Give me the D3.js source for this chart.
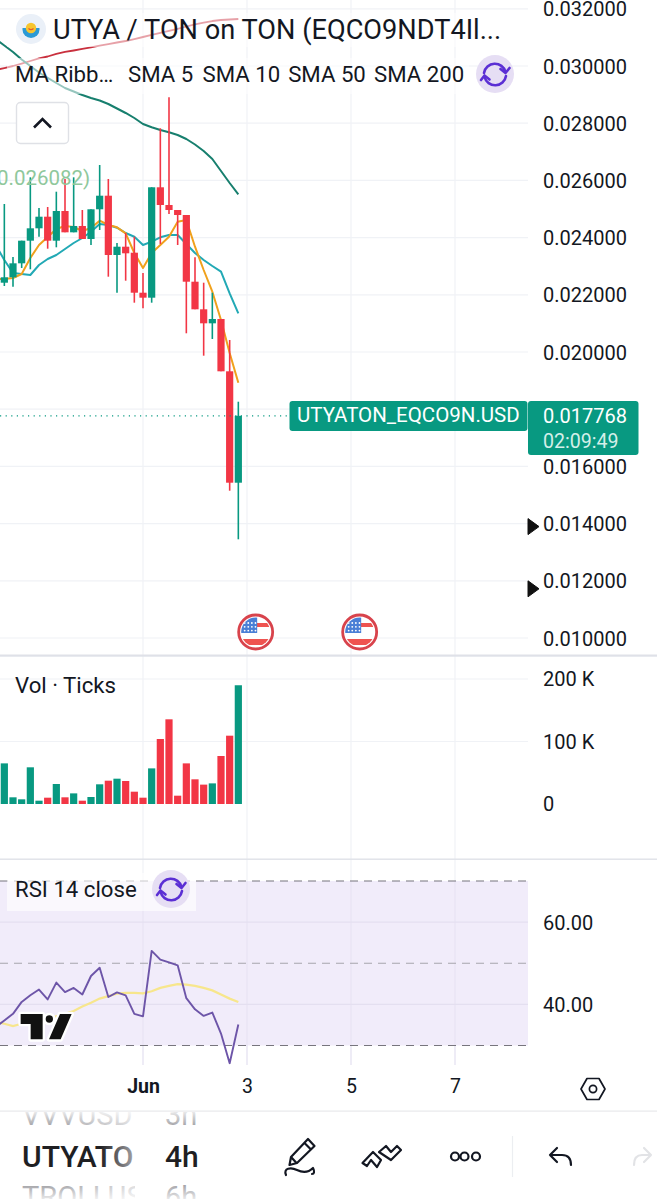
<!DOCTYPE html>
<html>
<head>
<meta charset="utf-8">
<script src="https://cdn.jsdelivr.net/npm/d3@7/dist/d3.min.js"></script>
<style>
  html, body { margin: 0; padding: 0; background: #fff; overflow: hidden; }
  svg { display: block; }
  text { font-family: Roboto, "Noto Sans", sans-serif; fill: #131722; }
</style>
</head>
<body>
<svg id="chart" width="657" height="1199"></svg>
<script>
// 4h candles for UTYATON, first bar 29 May 08:00 UTC
const firstBar = Date.UTC(2025, 4, 29, 8);
const opens = [0.022423,0.022612,0.023101,0.023892,0.024325,0.024731,0.023892,0.024930,0.024185,0.024406,0.023951,0.024990,0.025465,0.023392,0.023682,0.023472,0.022073,0.021899,0.025759,0.025140,0.024965,0.024790,0.022458,0.021493,0.021003,0.021154,0.019325,0.015430];
const highs = [0.025175,0.023322,0.023892,0.026108,0.025035,0.025070,0.025605,0.026049,0.026108,0.024965,0.024990,0.026538,0.026049,0.023811,0.024161,0.024031,0.022762,0.025759,0.027822,0.028906,0.024965,0.024790,0.023311,0.022423,0.022073,0.021154,0.020420,0.018262];
const lows = [0.022308,0.022283,0.022937,0.022892,0.024031,0.023612,0.023661,0.024185,0.024185,0.023951,0.023741,0.024266,0.022633,0.022073,0.022493,0.021724,0.021528,0.021724,0.023776,0.024825,0.023741,0.020654,0.021493,0.019871,0.020455,0.019325,0.015150,0.013451];
const closes = [0.022612,0.023101,0.023892,0.024325,0.024731,0.023892,0.024930,0.024185,0.024406,0.023951,0.024990,0.025465,0.023392,0.023682,0.023451,0.022073,0.021899,0.025759,0.025140,0.024965,0.024790,0.022458,0.021493,0.021003,0.021154,0.019325,0.015430,0.017768];

// moving averages of the close; each study carries one extra bar ahead of the first candle
const sma5 = [0.022550,0.022552,0.022587,0.022727,0.023287,0.023741,0.024021,0.024301,0.024406,0.024371,0.024231,0.024336,0.024591,0.024441,0.024360,0.024150,0.023462,0.022937,0.023462,0.023741,0.024031,0.024556,0.024615,0.023682,0.022867,0.022108,0.021119,0.019965,0.018927];
const sma10 = [0.023741,0.023217,0.022762,0.022727,0.022692,0.023042,0.023252,0.023392,0.023601,0.023811,0.023986,0.024206,0.024476,0.024441,0.024346,0.024161,0.024031,0.023741,0.023857,0.024010,0.024091,0.024091,0.023776,0.023462,0.023217,0.023007,0.022808,0.022052,0.021353];
const sma50 = [0.030944,0.030717,0.030490,0.030227,0.030000,0.029773,0.029587,0.029406,0.029231,0.029108,0.028986,0.028881,0.028794,0.028671,0.028514,0.028357,0.028182,0.027972,0.027857,0.027762,0.027682,0.027587,0.027448,0.027255,0.027028,0.026748,0.026329,0.025909,0.025514];
const sma200 = [0.029860,0.029930,0.030000,0.030087,0.030175,0.030269,0.030332,0.030420,0.030490,0.030542,0.030598,0.030654,0.030710,0.030766,0.030822,0.030874,0.030944,0.031014,0.031084,0.031154,0.031224,0.031301,0.031381,0.031458,0.031517,0.031573,0.031608,0.031626,0.031643];

// tick volume in thousands, RSI and its smoothing
const volumes = [65,10.7,7.5,58.7,5.3,10.1,32,10.7,17,5.3,11.2,31.5,37.3,40.5,36.8,19.7,10.1,57,104,135.5,13.3,65,39.5,31,33,76.8,109.3,190];
const rsi = [34.5,36.1,37.7,40.6,42.2,43.6,41.2,45.3,43.0,44.0,42.4,46.9,48.9,41.8,42.9,42.2,37.7,37.1,53.0,50.9,50.2,49.5,41.5,38.8,37.2,38.0,32.9,25.7,35.1];
const rsiMa = [35.7,35.3,34.7,35.3,35.7,36.1,36.5,37.1,37.7,38.4,39.5,40.4,41.4,42.0,42.6,42.8,42.8,42.7,43.2,44.0,44.5,44.9,44.8,44.5,44.0,43.4,42.4,41.4,40.6];

// axis ticks and labels
const priceTicks = [0.010,0.012,0.014,0.016,0.018,0.020,0.022,0.024,0.026,0.028,0.030,0.032];
const volumeTicks = [0,100,200];
const rsiTicks = [40,60];
const rsiBands = [30,50,70];
const dateTicks = [Date.UTC(2025,5,1),Date.UTC(2025,5,3),Date.UTC(2025,5,5),Date.UTC(2025,5,7)];
const lastPrice = 0.017768;
const eventDates = [Date.UTC(2025,5,3,4),Date.UTC(2025,5,5,4)];
const studyNames = [["SMA 5", 128], ["SMA 10", 202.5], ["SMA 50", 288.2], ["SMA 200", 374]];

const GREEN = "#089981", RED = "#f23645", GRID = "#f0f2f6", PURPLE = "#5b2fd4";
const HOUR = 3600e3;
const dates = closes.map((_, i) => firstBar + i * 4 * HOUR);

const svg = d3.select("#chart");
const defs = svg.append("defs");

// shared time axis; 2 days span 104 px
const x = d3.scaleUtc().domain([dateTicks[0], dateTicks[1]]).range([143, 247]);
const y = d3.scaleLinear().domain([0.010, 0.032]).range([638, 8.8]);
const yVol = d3.scaleLinear().domain([0, 200]).range([804, 679]);
const yRsi = d3.scaleLinear().domain([30, 70]).range([1045.5, 881]);
const idx = d3.range(closes.length);

// vertical grid across the three panes
svg.append("g").selectAll("line").data(dateTicks).join("line")
  .attr("x1", d => x(d)).attr("x2", d => x(d)).attr("y1", 0).attr("y2", 1065)
  .attr("stroke", GRID).attr("stroke-width", 1.2);

// RSI background band
svg.append("rect").attr("x", 0).attr("width", 528)
  .attr("y", yRsi(70)).attr("height", yRsi(30) - yRsi(70)).attr("fill", "#f1ecfa");
svg.append("g").selectAll("line").data(dateTicks).join("line")
  .attr("x1", d => x(d)).attr("x2", d => x(d)).attr("y1", yRsi(70)).attr("y2", 1065)
  .attr("stroke", "#e6e1f2").attr("stroke-width", 1);

function hGrid(ticks, scale, color) {
  svg.append("g").selectAll("line").data(ticks).join("line")
    .attr("x1", 0).attr("x2", 528).attr("y1", d => scale(d)).attr("y2", d => scale(d))
    .attr("stroke", color).attr("stroke-width", 1.2);
}
hGrid(priceTicks, y, GRID);
hGrid(volumeTicks.slice(1), yVol, GRID);
hGrid(rsiTicks, yRsi, "#e4dff0");

// pane separators
svg.append("rect").attr("x", 0).attr("y", 654.5).attr("width", 657).attr("height", 2.2).attr("fill", "#dfe1e8");
svg.append("rect").attr("x", 0).attr("y", 858.5).attr("width", 657).attr("height", 1.4).attr("fill", "#dfe1e8");
svg.append("rect").attr("x", 0).attr("y", 1110.5).attr("width", 657).attr("height", 1.2).attr("fill", "#e8e9ec");

// moving averages, offset by the extra leading bar
const lineOf = (values, scale) => d3.line().x((_, i) => x(firstBar + (i - 1) * 4 * HOUR)).y(d => scale(d))(values);
[[sma200, "#c9303e", 1.8], [sma50, "#177f6e", 2], [sma10, "#22a9b5", 2], [sma5, "#f0a11c", 2]].forEach(([values, color, w]) => {
  svg.append("path").attr("d", lineOf(values, y)).attr("fill", "none")
    .attr("stroke", color).attr("stroke-width", w).attr("stroke-linejoin", "round");
});

// candles
const isUp = i => closes[i] >= opens[i];
const candles = svg.append("g").selectAll("g").data(idx).join("g");
candles.append("line")
  .attr("x1", i => x(dates[i])).attr("x2", i => x(dates[i]))
  .attr("y1", i => y(highs[i])).attr("y2", i => y(lows[i]))
  .attr("stroke", i => isUp(i) ? GREEN : RED).attr("stroke-width", 1.6);
candles.append("rect")
  .attr("x", i => x(dates[i]) - 3.6).attr("width", 7.2)
  .attr("y", i => y(Math.max(opens[i], closes[i])))
  .attr("height", i => Math.max(1, Math.abs(y(opens[i]) - y(closes[i]))))
  .attr("fill", i => isUp(i) ? GREEN : RED);

// last price dotted line
svg.append("line").attr("x1", 0).attr("x2", 290).attr("y1", y(lastPrice)).attr("y2", y(lastPrice))
  .attr("stroke", GREEN).attr("stroke-width", 1.2).attr("stroke-dasharray", "1.2 4.4");

// legend rows sit on a translucent strip above the lines
svg.append("rect").attr("x", 7).attr("y", 13).attr("width", 498).attr("height", 34).attr("fill", "#fff").attr("fill-opacity", 0.55);
svg.append("rect").attr("x", 7).attr("y", 58).attr("width", 462).attr("height", 36).attr("fill", "#fff").attr("fill-opacity", 0.55);

// symbol badge
svg.append("circle").attr("cx", 31).attr("cy", 29).attr("r", 15).attr("fill", "#eaf0f8");
svg.append("path").attr("d", "M22.5 29.5 A8.5 8.5 0 0 0 39.5 29.5 L39.5 28 L22.5 28 Z").attr("fill", "#2a9ad6");
svg.append("circle").attr("cx", 31).attr("cy", 28).attr("r", 5.2).attr("fill", "#f7c52e");
svg.append("path").attr("d", "M28.5 28.5 Q31 31 33.5 28.5").attr("fill", "none").attr("stroke", "#e4572e").attr("stroke-width", 1.2);

svg.append("text").attr("x", 53).attr("y", 39).attr("font-size", 27.2).text("UTYA / TON on TON (EQCO9NDT4Il...");
svg.append("text").attr("x", 15).attr("y", 81.5).attr("font-size", 22.2).text("MA Ribb…");
svg.append("g").selectAll("text").data(studyNames).join("text")
  .attr("x", d => d[1]).attr("y", 81.5).attr("font-size", 22.2).text(d => d[0]);
svg.append("text").attr("x", -3).attr("y", 185).attr("font-size", 20.5).style("fill", "#8fc89c").text("0.026082)");

// refresh toggle used on the legend rows
function refreshIcon(cx, cy, r) {
  const g = svg.append("g").attr("transform", `translate(${cx},${cy})`)
    .attr("fill", "none").attr("stroke", PURPLE).attr("stroke-width", 2.6)
    .attr("stroke-linecap", "round").attr("stroke-linejoin", "round");
  g.append("circle").attr("r", r).attr("fill", "#e6def4").attr("stroke", "none");
  g.append("path").attr("d", "M-11 -1 A11 11 0 0 1 10.5 -2");
  g.append("path").attr("d", "M11 2 A11 11 0 0 1 -10.5 3");
  g.append("path").attr("d", "M5.5 -5 L10.5 -1 L14.5 -6");
  g.append("path").attr("d", "M-14 6 L-10.5 1.5 L-5.5 5.5");
}
refreshIcon(495, 74, 19);

// collapse button
svg.append("rect").attr("x", 16.5).attr("y", 102.5).attr("width", 52).attr("height", 41).attr("rx", 4)
  .attr("fill", "#fff").attr("stroke", "#dfe1e6").attr("stroke-width", 1.4);
svg.append("path").attr("d", "M34 127.5 L42.5 119 L51 127.5").attr("fill", "none").attr("stroke", "#131722").attr("stroke-width", 2.6);

// right-hand scales share one look
function styleAxis(g) {
  g.select(".domain").remove();
  g.selectAll("text").attr("font-size", 20).attr("font-family", "Roboto").style("fill", "#131722");
}

// price axis
svg.append("g").attr("transform", "translate(543,0.6)")
  .call(d3.axisRight(y).tickValues(priceTicks.filter(d => d !== 0.018)).tickSize(0).tickPadding(0).tickFormat(d3.format(".6f")))
  .call(styleAxis);

// last price tags
svg.append("rect").attr("x", 289.5).attr("y", 401).attr("width", 238).attr("height", 30).attr("rx", 3).attr("fill", GREEN);
svg.append("text").attr("x", 297).attr("y", 422).attr("font-size", 20.5).style("fill", "#fff").text("UTYATON_EQCO9N.USD");
svg.append("rect").attr("x", 528).attr("y", 401).attr("width", 110.5).attr("height", 54).attr("rx", 3).attr("fill", GREEN);
svg.append("text").attr("x", 543).attr("y", 423).attr("font-size", 20).style("fill", "#fff").text(d3.format(".6f")(lastPrice));
svg.append("text").attr("x", 543).attr("y", 448).attr("font-size", 19.6).style("fill", "#d4efe9").text("02:09:49");

// drag handles on the scale
[0.014, 0.012].forEach(v => {
  svg.append("path").attr("transform", `translate(0,${y(v) + (v === 0.014 ? 3 : 8)})`)
    .attr("d", "M528 -8 L539 0 L528 8 Z").attr("fill", "#111").attr("stroke", "#111").attr("stroke-width", 1).attr("stroke-linejoin", "round");
});

// economic event markers
eventDates.forEach(d => {
  const cx = x(d), cy = 632;
  const id = "flag" + d;
  defs.append("clipPath").attr("id", id).append("circle").attr("cx", cx).attr("cy", cy).attr("r", 14.5);
  const g = svg.append("g");
  g.append("circle").attr("cx", cx).attr("cy", cy).attr("r", 17).attr("fill", "#fff").attr("stroke", "#d8434c").attr("stroke-width", 2.8);
  const f = g.append("g").attr("clip-path", `url(#${id})`);
  f.append("rect").attr("x", cx).attr("y", cy - 9).attr("width", 15).attr("height", 4).attr("fill", "#ef5350");
  f.append("rect").attr("x", cx - 15).attr("y", cy + 7).attr("width", 30).attr("height", 6).attr("fill", "#ef5350");
  f.append("rect").attr("x", cx - 15).attr("y", cy - 15).attr("width", 16.5).attr("height", 16).attr("fill", "#4a7fd6");
  d3.range(3).forEach(r => d3.range(4).forEach(c => {
    f.append("circle").attr("cx", cx - 11 + c * 3.6).attr("cy", cy - 9 + r * 3.8).attr("r", 0.9).attr("fill", "#fff");
  }));
});

// volume pane
svg.append("g").selectAll("rect").data(idx).join("rect")
  .attr("x", i => x(dates[i]) - 3.6).attr("width", 7.2)
  .attr("y", i => yVol(volumes[i])).attr("height", i => yVol(0) - yVol(volumes[i]))
  .attr("fill", i => isUp(i) ? GREEN : RED);
svg.append("text").attr("x", 15).attr("y", 692.5).attr("font-size", 22.2).text("Vol · Ticks");
svg.append("g").attr("transform", "translate(543,0.2)")
  .call(d3.axisRight(yVol).tickValues(volumeTicks).tickSize(0).tickPadding(0).tickFormat(d => d ? d + " K" : "0"))
  .call(styleAxis);

// RSI pane
svg.append("g").selectAll("line").data(rsiBands).join("line")
  .attr("x1", 0).attr("x2", 528).attr("y1", d => yRsi(d)).attr("y2", d => yRsi(d))
  .attr("stroke", d => d === 50 ? "#a7a5ad" : "#77757d").attr("stroke-width", 1.2).attr("stroke-dasharray", "8 6");
svg.append("path").attr("d", lineOf(rsiMa, yRsi)).attr("fill", "none").attr("stroke", "#f7e68c").attr("stroke-width", 2.2);
svg.append("path").attr("d", lineOf(rsi, yRsi)).attr("fill", "none").attr("stroke", "#6d55a8").attr("stroke-width", 1.9).attr("stroke-linejoin", "round");
svg.append("rect").attr("x", 7).attr("y", 873).attr("width", 189).attr("height", 38).attr("fill", "#fff").attr("fill-opacity", 0.62);
svg.append("text").attr("x", 15).attr("y", 896.5).attr("font-size", 22.2).text("RSI 14 close");
refreshIcon(171, 889, 19);
svg.append("g").attr("transform", "translate(543,0.6)")
  .call(d3.axisRight(yRsi).tickValues(rsiTicks).tickSize(0).tickPadding(0).tickFormat(d3.format(".2f")))
  .call(styleAxis);

// attribution logo
const logo = svg.append("g").attr("transform", "translate(0,870) scale(0.3333)");
const logoShapes = "M62 432 H128 V508 H92 V462 H62 Z M180 432 H215 L182 508 H147 Z";
logo.append("path").attr("d", logoShapes).attr("fill", "#fff").attr("stroke", "#fff").attr("stroke-width", 14).attr("stroke-linejoin", "round");
logo.append("circle").attr("cx", 148).attr("cy", 447).attr("r", 15).attr("fill", "#111").attr("stroke", "#fff").attr("stroke-width", 8);
logo.append("path").attr("d", logoShapes).attr("fill", "#111");

// date axis
const dateAxis = svg.append("g").attr("transform", "translate(0,1079.5)")
  .call(d3.axisBottom(x).tickValues(dateTicks).tickSize(0).tickPadding(0)
    .tickFormat(d => new Date(d).getUTCDate() === 1 ? "Jun" : String(new Date(d).getUTCDate())));
dateAxis.select(".domain").remove();
dateAxis.selectAll("text").attr("font-size", 19.5).attr("font-family", "Roboto").style("fill", "#131722")
  .attr("font-weight", d => new Date(d).getUTCDate() === 1 ? 700 : 400);

// auto-scale settings glyph
svg.append("path").attr("d", "M581 1089 L587 1078.5 H599 L605 1089 L599 1099.5 H587 Z").attr("fill", "none").attr("stroke", "#131722").attr("stroke-width", 1.7).attr("stroke-linejoin", "round");
svg.append("circle").attr("cx", 593).attr("cy", 1089).attr("r", 3.6).attr("fill", "none").attr("stroke", "#131722").attr("stroke-width", 1.7);

// toolbar wheel pickers
const grad = defs.append("linearGradient").attr("id", "fade").attr("gradientUnits", "userSpaceOnUse")
  .attr("x1", 100).attr("x2", 136).attr("y1", 0).attr("y2", 0);
grad.append("stop").attr("offset", 0).attr("stop-color", "#1f1f22");
grad.append("stop").attr("offset", 1).attr("stop-color", "#a9a9ad");
const gradSoft = defs.append("linearGradient").attr("id", "fadeSoft").attr("gradientUnits", "userSpaceOnUse")
  .attr("x1", 60).attr("x2", 136).attr("y1", 0).attr("y2", 0);
gradSoft.append("stop").attr("offset", 0).attr("stop-color", "#a4a4a8");
gradSoft.append("stop").attr("offset", 1).attr("stop-color", "#dcdcde");
defs.append("clipPath").attr("id", "wheel").append("rect").attr("x", 20).attr("y", 1112).attr("width", 115).attr("height", 87);
defs.append("clipPath").attr("id", "wheel2").append("rect").attr("x", 160).attr("y", 1112).attr("width", 45).attr("height", 87);
const wheel = svg.append("g").attr("clip-path", "url(#wheel)");
wheel.append("text").attr("x", 22).attr("y", 1125).attr("font-size", 29).style("fill", "url(#fadeSoft)").text("VVVUSD");
wheel.append("text").attr("x", 22).attr("y", 1167).attr("font-size", 30).attr("font-weight", 500).style("fill", "url(#fade)").text("UTYATON");
wheel.append("text").attr("x", 22).attr("y", 1207).attr("font-size", 29).style("fill", "url(#fadeSoft)").text("TROLLUSD");
const wheel2 = svg.append("g").attr("clip-path", "url(#wheel2)");
wheel2.append("text").attr("x", 165).attr("y", 1125).attr("font-size", 29).style("fill", "#a4a4a8").text("3h");
wheel2.append("text").attr("x", 165).attr("y", 1167).attr("font-size", 30).attr("font-weight", 500).style("fill", "#1f1f22").text("4h");
wheel2.append("text").attr("x", 165).attr("y", 1207).attr("font-size", 29).style("fill", "#a4a4a8").text("6h");

// the wheel's rows dim toward its top and bottom edges
const veil = (id, a, b) => {
  const g = defs.append("linearGradient").attr("id", id).attr("x1", 0).attr("x2", 0).attr("y1", 0).attr("y2", 1);
  g.append("stop").attr("offset", 0).attr("stop-color", "#fff").attr("stop-opacity", a);
  g.append("stop").attr("offset", 1).attr("stop-color", "#fff").attr("stop-opacity", b);
};
veil("veilTop", 0.75, 0);
veil("veilBottom", 0, 0.75);
svg.append("rect").attr("x", 15).attr("y", 1112).attr("width", 195).attr("height", 14).attr("fill", "url(#veilTop)");
svg.append("rect").attr("x", 15).attr("y", 1185).attr("width", 195).attr("height", 14).attr("fill", "url(#veilBottom)");

// drawing tools
const tool = d => svg.append("path").attr("d", d).attr("fill", "none").attr("stroke", "#131722").attr("stroke-width", 2.2).attr("stroke-linejoin", "round").attr("stroke-linecap", "round");
tool("M291 1157 L308 1139 L314.5 1146 L297 1163 L289.5 1165 Z M304.5 1143 L311 1149.5 M291.5 1157.5 L296.5 1163");
tool("M286 1175 C283 1168 291 1167 297 1170 C303 1173 309 1172 313 1168 C315 1172 314 1174 312 1174");
tool("M362.5 1163 L373 1152 L381 1160 L377 1167 L371 1160 L367 1166 Z M379 1152 L386 1146 L391 1152 L397 1146 L401 1150 L391 1160 Z");
[455, 464.5, 476].forEach(cx => svg.append("circle").attr("cx", cx).attr("cy", 1156.5).attr("r", 4).attr("fill", "none").attr("stroke", "#131722").attr("stroke-width", 2.2));
svg.append("line").attr("x1", 512.5).attr("x2", 512.5).attr("y1", 1136).attr("y2", 1177).attr("stroke", "#eceef1").attr("stroke-width", 1.2);
tool("M557 1148 L550 1155 L557 1162 M550 1155 H562 Q571 1155 571 1165");
svg.append("path").attr("d", "M644 1148 L651 1155 L644 1162 M651 1155 H642 Q634 1155 634 1165").attr("fill", "none").attr("stroke", "#e2e3e6").attr("stroke-width", 2.2).attr("stroke-linecap", "round").attr("stroke-linejoin", "round");
</script>
</body>
</html>
